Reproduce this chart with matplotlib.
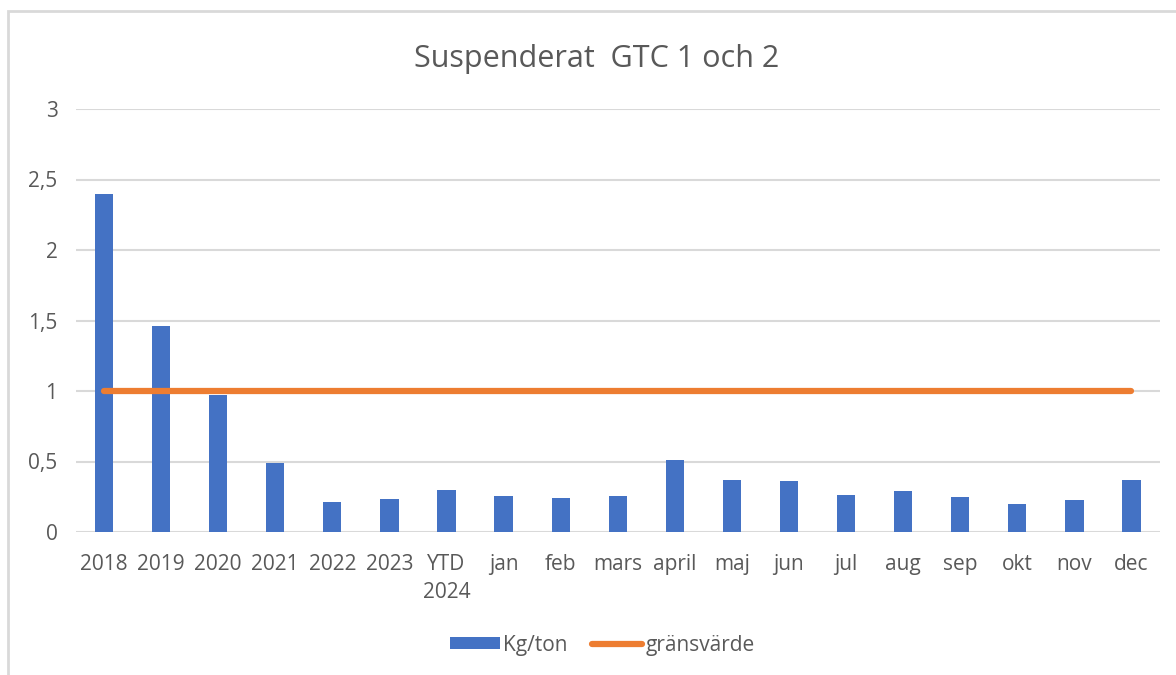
import matplotlib.pyplot as plt
from matplotlib.patches import Rectangle
from matplotlib.ticker import FuncFormatter
import numpy as np

# Data
categories = ['2018', '2019', '2020', '2021', '2022', '2023', 'YTD\n2024',
              'jan', 'feb', 'mars', 'april', 'maj', 'jun', 'jul', 'aug',
              'sep', 'okt', 'nov', 'dec']
kg_ton = [2.40, 1.46, 0.97, 0.49, 0.21, 0.235, 0.30,
          0.255, 0.24, 0.255, 0.51, 0.37, 0.36, 0.26, 0.29,
          0.25, 0.20, 0.227, 0.37]
gransvarde = [1.0] * len(categories)

blue = '#4472C4'
orange = '#ED7D31'
grey_txt = '#595959'
grid_col = '#D9D9D9'

plt.rcParams['font.family'] = ['Open Sans', 'DejaVu Sans']

fig = plt.figure(figsize=(11.76, 6.75), dpi=100)
fig.patches.append(Rectangle((8 / 1176, -0.1), 1.2, 1 - 11 / 675 + 0.1,
                             transform=fig.transFigure, fill=False,
                             edgecolor=grid_col, linewidth=2))

ax = fig.add_axes([75.5 / 1176, 1 - 532 / 675, (1160 - 75.5) / 1176, (532 - 109) / 675])
x = np.arange(len(categories))
bars = ax.bar(x, kg_ton, width=0.32, color=blue, label='Kg/ton', zorder=2)
line, = ax.plot(x, gransvarde, color=orange, linewidth=4.5, solid_capstyle='round',
                label='gränsvärde', zorder=3)

ax.set_xlim(-0.5, len(categories) - 0.5)
ax.set_ylim(0, 3)
ax.set_yticks(np.arange(0, 3.01, 0.5))
ax.yaxis.set_major_formatter(FuncFormatter(lambda v, p: ('%g' % v).replace('.', ',')))
ax.set_xticks(x)
ax.set_xticklabels(categories, linespacing=1.45)
ax.grid(axis='y', color=grid_col, linewidth=1.5, zorder=0)
for s in ax.spines.values():
    s.set_visible(False)
ax.tick_params(axis='both', length=0, labelsize=15, labelcolor=grey_txt)
ax.tick_params(axis='x', pad=16)
ax.tick_params(axis='y', pad=13)

fig.text(597 / 1176, 1 - 59 / 675, 'Suspenderat  GTC 1 och 2', ha='center', va='center',
         fontsize=22, color=grey_txt)

leg = fig.legend([bars, line], ['Kg/ton', 'gränsvärde'], loc='center',
                 bbox_to_anchor=(602 / 1176, 1 - 645 / 675), ncol=2,
                 frameon=False, fontsize=15, handlelength=2.4, handleheight=0.5,
                 columnspacing=1.2, handletextpad=0.15)
for t in leg.get_texts():
    t.set_color(grey_txt)

fig.savefig('out.png', dpi=100)
